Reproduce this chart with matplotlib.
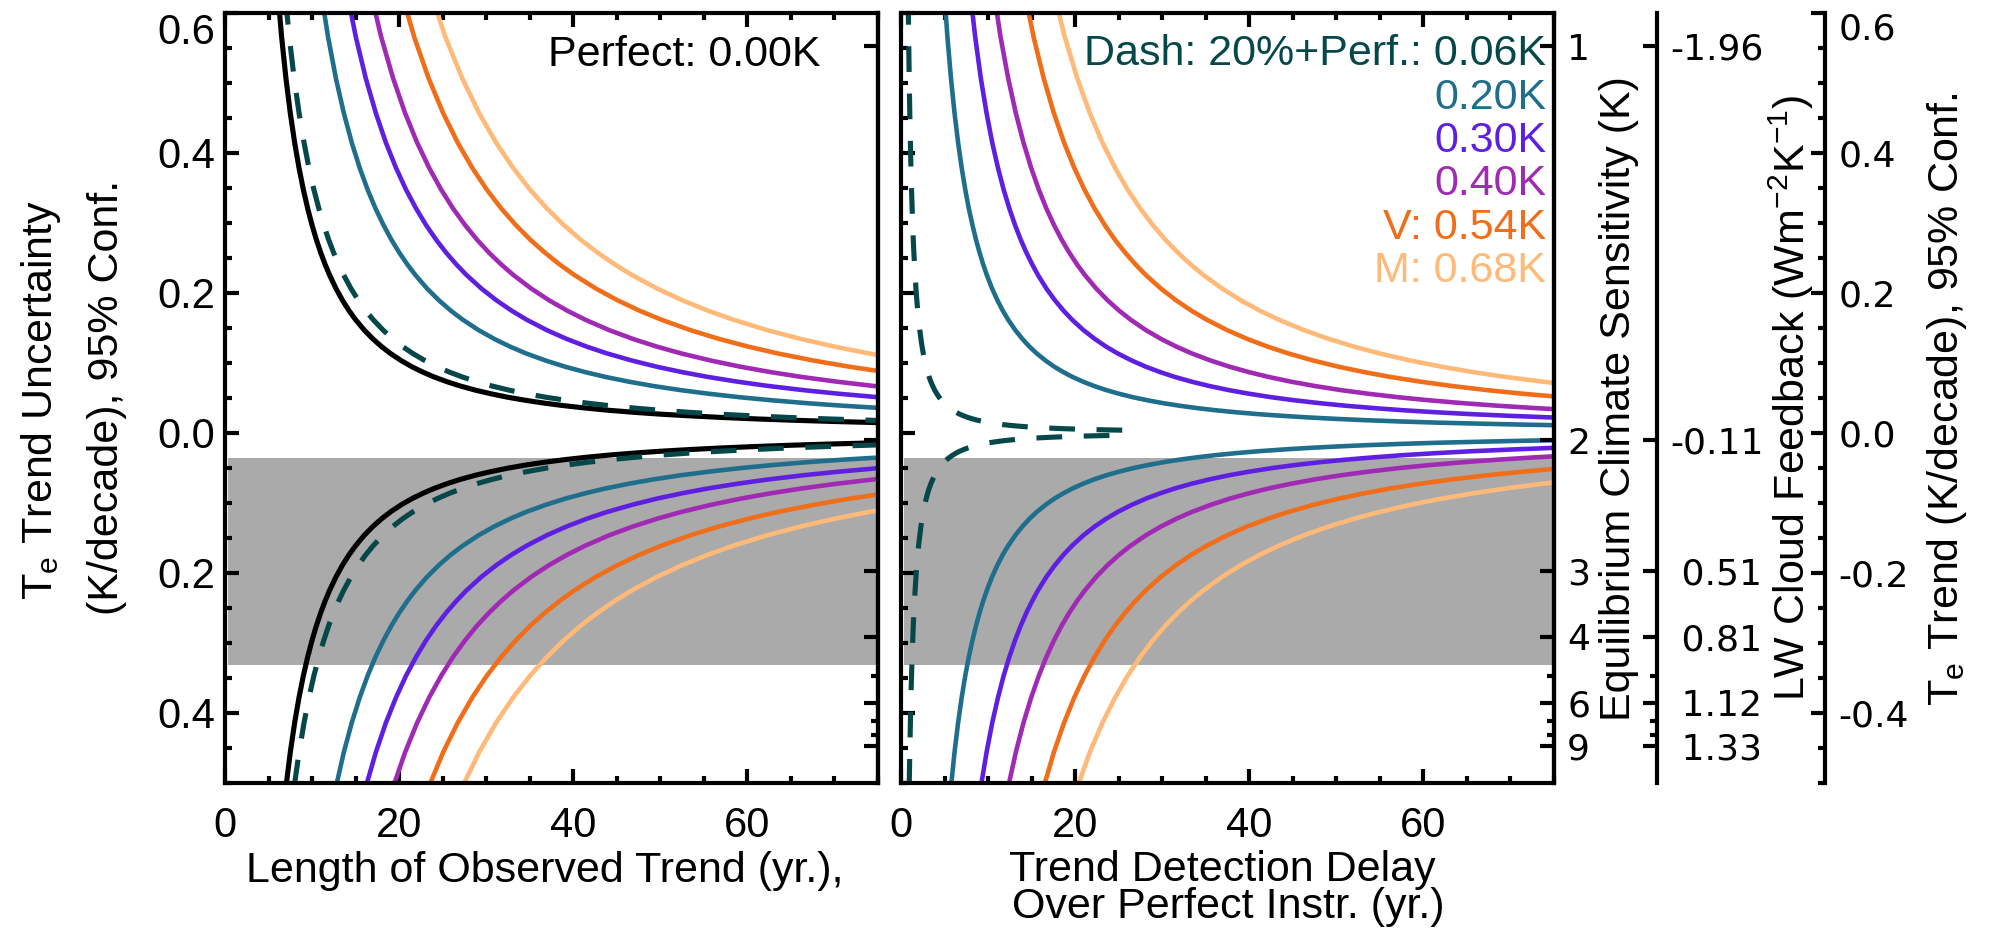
import numpy as np
import matplotlib
matplotlib.use("Agg")
import matplotlib.pyplot as plt
from matplotlib.ticker import FixedLocator, MultipleLocator

plt.rcParams["font.family"] = ["Liberation Sans", "DejaVu Sans"]
plt.rcParams["mathtext.fontset"] = "custom"
plt.rcParams["mathtext.rm"] = "Liberation Sans"
plt.rcParams["mathtext.it"] = "Liberation Sans:italic"
plt.rcParams["mathtext.bf"] = "Liberation Sans:bold"
plt.rcParams["mathtext.default"] = "regular"

# ------------------------------------------------------------------ data
# Te-trend uncertainty levels (K/decade, 95% conf.) shared by all curves
U_LEVELS = [0.6379, 0.5657, 0.5062, 0.4564, 0.4143, 0.3783, 0.3472, 0.3202,
            0.2965, 0.2755, 0.2570, 0.2404, 0.2255, 0.2059, 0.1890, 0.1743,
            0.1614, 0.1465, 0.1338, 0.1228, 0.1132, 0.1029, 0.0940, 0.0864,
            0.0797, 0.0728, 0.0668, 0.0608, 0.0557, 0.0506, 0.0463, 0.0421,
            0.0385, 0.0351, 0.0321, 0.0291, 0.0265, 0.0240, 0.0218, 0.0197,
            0.0179, 0.0160, 0.0144, 0.0129, 0.01155, 0.01037, 0.00938,
            0.00841, 0.00760, 0.00683, 0.00618, 0.00560, 0.00510, 0.00463,
            0.00423, 0.00388, 0.00358]

# left panel: length of observed trend (yr) needed to reach each level
T_PERFECT = [6, 6.5, 7, 7.5, 8, 8.5, 9, 9.5, 10, 10.5, 11, 11.5, 12, 12.75,
             13.5, 14.25, 15, 16, 17, 18, 19, 20.25, 21.5, 22.75, 24, 25.5,
             27, 28.75, 30.5, 32.5, 34.5, 36.75, 39, 41.5, 44, 47, 50, 53.5,
             57, 61, 65, 70, 75]
T_DASH = [6.81, 7.38, 7.94, 8.51, 9.08, 9.64, 10.21, 10.78, 11.35, 11.91,
          12.48, 13.05, 13.62, 14.47, 15.32, 16.17, 17.02, 18.16, 19.29,
          20.42, 21.56, 22.98, 24.40, 25.81, 27.23, 28.93, 30.64, 32.62,
          34.61, 36.88, 39.15, 41.70, 44.25, 47.09, 49.93, 53.33, 56.74,
          60.71, 64.68, 69.22, 73.76, 79.43]
T_020 = [10.92, 11.83, 12.74, 13.65, 14.56, 15.47, 16.38, 17.29, 18.21,
         19.12, 20.03, 20.94, 21.85, 23.21, 24.58, 25.94, 27.31, 29.13,
         30.95, 32.77, 34.59, 36.87, 39.14, 41.42, 43.69, 46.42, 49.15,
         52.34, 55.53, 59.17, 62.81, 66.90, 71.00, 75.55]
T_030 = [13.86, 15.02, 16.17, 17.33, 18.48, 19.64, 20.79, 21.95, 23.10,
         24.26, 25.41, 26.57, 27.72, 29.45, 31.19, 32.92, 34.65, 36.96,
         39.27, 41.58, 43.89, 46.78, 49.67, 52.56, 55.44, 58.91, 62.38,
         66.42, 70.46, 75.08]
T_040 = [16.55, 17.93, 19.31, 20.69, 22.07, 23.45, 24.83, 26.20, 27.58,
         28.96, 30.34, 31.72, 33.10, 35.17, 37.24, 39.31, 41.38, 44.13,
         46.89, 49.65, 52.41, 55.86, 59.31, 62.75, 66.20, 70.34, 74.48, 79.30]
T_054 = [20.05, 21.72, 23.39, 25.06, 26.73, 28.40, 30.07, 31.74, 33.41,
         35.08, 36.76, 38.43, 40.10, 42.60, 45.11, 47.61, 50.12, 53.46,
         56.80, 60.15, 63.49, 67.66, 71.84, 76.02]
T_068 = [23.36, 25.30, 27.25, 29.19, 31.14, 33.09, 35.03, 36.98, 38.93,
         40.87, 42.82, 44.76, 46.71, 49.63, 52.55, 55.47, 58.39, 62.28,
         66.17, 70.07, 73.96, 78.82]

# right panel: trend detection delay over perfect instrument (yr)
D_DASH = [0.81, 0.88, 0.94, 1.01, 1.08, 1.14, 1.21, 1.28, 1.35, 1.41, 1.48,
          1.55, 1.62, 1.72, 1.82, 1.92, 2.02, 2.16, 2.29, 2.42, 2.56, 2.73,
          2.90, 3.06, 3.23, 3.43, 3.64, 3.87, 4.11, 4.38, 4.65, 4.95, 5.25,
          5.59, 5.93, 6.33, 6.74, 7.21, 7.68, 8.22, 8.76, 9.43, 10.10, 10.91,
          11.72, 12.59, 13.47, 14.48, 15.49, 16.64, 17.78, 18.99, 20.21,
          21.55, 22.90, 24.25, 25.59]
D_020 = [4.92, 5.33, 5.74, 6.15, 6.56, 6.97, 7.38, 7.79, 8.21, 8.62, 9.03,
         9.44, 9.85, 10.46, 11.08, 11.69, 12.31, 13.13, 13.95, 14.77, 15.59,
         16.62, 17.64, 18.67, 19.69, 20.92, 22.15, 23.59, 25.03, 26.67,
         28.31, 30.15, 32.00, 34.05, 36.10, 38.56, 41.03, 43.90, 46.77,
         50.05, 53.33, 57.44, 61.54, 66.46, 71.38, 76.72]
D_030 = [7.86, 8.52, 9.17, 9.83, 10.48, 11.14, 11.79, 12.45, 13.10, 13.76,
         14.41, 15.07, 15.72, 16.70, 17.69, 18.67, 19.65, 20.96, 22.27,
         23.58, 24.89, 26.53, 28.17, 29.81, 31.44, 33.41, 35.38, 37.67,
         39.96, 42.58, 45.20, 48.15, 51.10, 54.37, 57.65, 61.58, 65.51,
         70.10, 74.68, 79.92]
D_040 = [10.55, 11.43, 12.31, 13.19, 14.07, 14.95, 15.83, 16.70, 17.58,
         18.46, 19.34, 20.22, 21.10, 22.42, 23.74, 25.06, 26.38, 28.13,
         29.89, 31.65, 33.41, 35.61, 37.81, 40.00, 42.20, 44.84, 47.48,
         50.55, 53.63, 57.15, 60.66, 64.62, 68.58, 72.97, 77.37]
D_054 = [14.05, 15.22, 16.39, 17.56, 18.73, 19.90, 21.07, 22.24, 23.41,
         24.58, 25.76, 26.93, 28.10, 29.85, 31.61, 33.36, 35.12, 37.46,
         39.80, 42.15, 44.49, 47.41, 50.34, 53.27, 56.19, 59.71, 63.22,
         67.32, 71.41, 76.10]
D_068 = [17.36, 18.80, 20.25, 21.69, 23.14, 24.59, 26.03, 27.48, 28.93,
         30.37, 31.82, 33.26, 34.71, 36.88, 39.05, 41.22, 43.39, 46.28,
         49.17, 52.07, 54.96, 58.57, 62.19, 65.80, 69.42, 73.76, 78.10]

# shaded range of Te trend (K/decade)
GRAY_BAND = (-0.332, -0.036)

# labels
LEGEND_TEXTS = ["Dash: 20%+Perf.: 0.06K", "0.20K", "0.30K", "0.40K",
                "V: 0.54K", "M: 0.68K"]
PERFECT_TEXT = "Perfect: 0.00K"
X_TICKS = [0, 20, 40, 60]
X_TICK_LABELS = ["0", "20", "40", "60"]
Y_TICKS = [-0.4, -0.2, 0.0, 0.2, 0.4, 0.6]
Y_TICK_LABELS = ["0.4", "0.2", "0.0", "0.2", "0.4", "0.6"]
TE_TICK_LABELS = ["-0.4", "-0.2", "0.0", "0.2", "0.4", "0.6"]
ECS_TICKS = [1, 2, 3, 4, 6, 9]
ECS_MINOR = [5, 7, 8]
ECS_LABELS = ["1", "2", "3", "4", "6", "9"]
LW_LABELS = ["-1.96", "-0.11", " 0.51", " 0.81", " 1.12", " 1.33"]

# ------------------------------------------------------------------ style
C_BLACK = "#000000"
C_DASH = "#06484a"
C_020 = "#1f6e8c"
C_030 = "#5f1fe0"
C_040 = "#a02ab4"
C_054 = "#f06e19"
C_068 = "#ffb978"
C_GRAY = "#aaaaaa"
LEGEND_COLORS = [C_DASH, C_020, C_030, C_040, C_054, C_068]

W, H = 1989, 931
fig = plt.figure(figsize=(W / 100, H / 100), dpi=100)


def fx(px):
    return px / W


def fy(py):
    return 1 - py / H


Y_TOP, Y_BOT = 12.7, 782.7
ax1 = fig.add_axes([fx(225), fy(Y_BOT), (878 - 225) / W, (Y_BOT - Y_TOP) / H])
ax2 = fig.add_axes([fx(901), fy(Y_BOT), (1554 - 901) / W, (Y_BOT - Y_TOP) / H])

XMAX = 75
YMIN, YMAX = -0.5, 0.6
LW_SP = 3.0
TICK_MAJ, TICK_MIN = 10, 5
FS_TICK = 30
FS_LAB = 31
FS_RIGHT = 26
LW_COL = 3.3
LW_BLK = 3.7
DASH = (0, (5.0, 4.2))


def ecs_to_trend(e):
    # position of an equilibrium-climate-sensitivity value on the Te-trend scale
    return 1.125 / e - 0.573


u = np.array(U_LEVELS)

# gray band
for ax in (ax1, ax2):
    ax.fill_between([0.35, XMAX], GRAY_BAND[0], GRAY_BAND[1], color=C_GRAY,
                    lw=0, zorder=0.5)

# left panel curves
left_series = [(T_068, C_068), (T_054, C_054), (T_040, C_040),
               (T_030, C_030), (T_020, C_020)]
for T, col in left_series:
    n = len(T)
    for s in (1, -1):
        ax1.plot(T, s * u[:n], color=col, lw=LW_COL, solid_capstyle="butt")
for s in (1, -1):
    ax1.plot(T_PERFECT, s * u[:len(T_PERFECT)], color=C_BLACK, lw=LW_BLK)
    ax1.plot(T_DASH, s * u[:len(T_DASH)], color=C_DASH, lw=LW_BLK, ls=DASH)

# right panel curves
right_series = [(D_068, C_068), (D_054, C_054), (D_040, C_040),
                (D_030, C_030), (D_020, C_020)]
for D, col in right_series:
    n = len(D)
    for s in (1, -1):
        ax2.plot(D, s * u[:n], color=col, lw=LW_COL, solid_capstyle="butt")
for s in (1, -1):
    ax2.plot(D_DASH, s * u[:len(D_DASH)], color=C_DASH, lw=LW_BLK, ls=DASH)


def style_main(ax):
    ax.set_xlim(0, XMAX)
    ax.set_ylim(YMIN, YMAX)
    ax.xaxis.set_major_locator(FixedLocator(X_TICKS))
    ax.xaxis.set_minor_locator(MultipleLocator(5))
    ax.set_xticklabels(X_TICK_LABELS)
    ax.yaxis.set_major_locator(FixedLocator(Y_TICKS))
    ax.yaxis.set_minor_locator(MultipleLocator(0.05))
    ax.tick_params(which="both", direction="in", top=True, bottom=True,
                   left=True, right=False, width=LW_SP)
    ax.tick_params(which="major", length=TICK_MAJ)
    ax.tick_params(which="minor", length=TICK_MIN)
    ax.tick_params(axis="x", labelsize=FS_TICK, pad=17)
    ax.tick_params(axis="y", labelsize=FS_TICK, pad=7)
    for sp in ax.spines.values():
        sp.set_linewidth(LW_SP)


def twin_axis(parent, pos, ticks, minor, labels, minor_len=TICK_MIN):
    tw = parent.twinx()
    tw.set_ylim(YMIN, YMAX)
    for name, sp in tw.spines.items():
        sp.set_visible(name == "right")
    tw.spines["right"].set_position(("axes", pos))
    tw.spines["right"].set_linewidth(LW_SP)
    tw.yaxis.set_major_locator(FixedLocator(ticks))
    tw.yaxis.set_minor_locator(FixedLocator(minor))
    tw.tick_params(axis="y", which="both", direction="in", width=LW_SP,
                   right=True, left=False)
    tw.tick_params(axis="y", which="major", length=TICK_MAJ)
    tw.tick_params(axis="y", which="minor", length=minor_len)
    if labels is None:
        tw.tick_params(axis="y", labelright=False)
    else:
        tw.set_yticklabels(labels, fontfamily="DejaVu Sans", fontsize=FS_RIGHT)
        tw.tick_params(axis="y", pad=9.5)
    return tw


ecs_pos = [ecs_to_trend(e) for e in ECS_TICKS]
ecs_minor = [ecs_to_trend(e) for e in ECS_MINOR]

style_main(ax1)
style_main(ax2)

ax1r = twin_axis(ax1, 1.0, ecs_pos, ecs_minor, None)
ax_ecs = twin_axis(ax2, 1.0, ecs_pos, ecs_minor, ECS_LABELS)
ax_lw = twin_axis(ax2, (1657 - 901) / 653, ecs_pos, ecs_minor, LW_LABELS)
te_minor = [v for v in np.arange(-0.5, 0.6001, 0.05)]
ax_te = twin_axis(ax2, (1825 - 901) / 653, Y_TICKS, te_minor, TE_TICK_LABELS)

ax1.set_yticklabels(Y_TICK_LABELS)
ax1.tick_params(axis="y", labelleft=True, left=True, right=False)
ax2.tick_params(axis="y", labelleft=False, left=True, right=False)

ax1.get_yticklabels()[-1].set_va("top")
ax_te.get_yticklabels()[-1].set_va("top")

# annotations
ax1.text(68.4, 0.524, PERFECT_TEXT, ha="right", va="baseline",
         fontsize=FS_LAB, color=C_BLACK)
for i, (txt, col) in enumerate(zip(LEGEND_TEXTS, LEGEND_COLORS)):
    ax2.text(74.1, 0.525 - 0.062 * i, txt, ha="right", va="baseline",
             fontsize=FS_LAB, color=col)

# axis titles
fig.text(fx(41), fy(400), r"T$_{\mathrm{e}}$ Trend Uncertainty", rotation=90,
         ha="center", va="center", fontsize=FS_LAB)
fig.text(fx(107), fy(397), "(K/decade), 95% Conf.", rotation=90,
         ha="center", va="center", fontsize=FS_LAB)
fig.text(fx(545), fy(871), "Length of Observed Trend (yr.),", ha="center",
         va="center", fontsize=FS_LAB)
fig.text(fx(1222), fy(870), "Trend Detection Delay", ha="center",
         va="center", fontsize=FS_LAB)
fig.text(fx(1228), fy(907), "Over Perfect Instr. (yr.)", ha="center",
         va="center", fontsize=FS_LAB)
fig.text(fx(1619), fy(399), "Equilibrium Climate Sensitivity (K)",
         rotation=90, ha="center", va="center", fontsize=FS_LAB)
fig.text(fx(1791), fy(398), r"LW Cloud Feedback (Wm$^{-2}$K$^{-1}$)",
         rotation=90, ha="center", va="center", fontsize=FS_LAB)
fig.text(fx(1947), fy(399), r"T$_{\mathrm{e}}$ Trend (K/decade), 95% Conf.",
         rotation=90, ha="center", va="center", fontsize=FS_LAB)

fig.savefig("out.png", dpi=100)
